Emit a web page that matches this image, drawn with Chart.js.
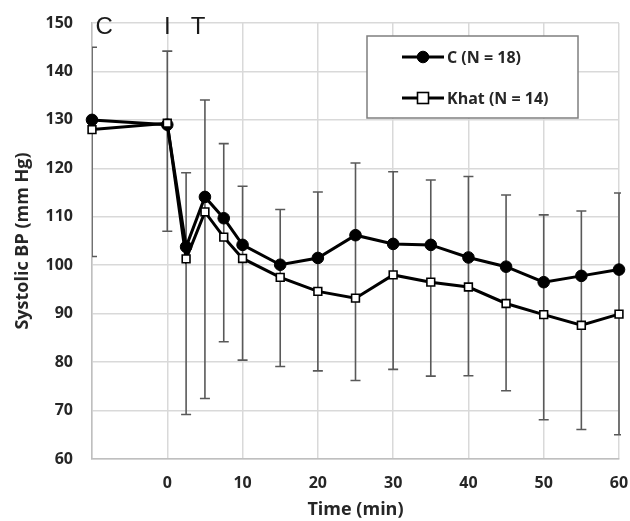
<!DOCTYPE html>
<html>
<head>
<meta charset="utf-8">
<script src="https://cdn.jsdelivr.net/npm/chart.js@4.4.1/dist/chart.umd.min.js"></script>
<style>
  html, body { margin: 0; padding: 0; background: #ffffff; }
  #wrap { width: 630px; height: 521px; position: relative; }
</style>
</head>
<body>
<div id="wrap"><canvas id="chart" width="630" height="521"></canvas></div>
<script>
// ---- Data ----
const times = [-10, 0, 2.5, 5, 7.5, 10, 15, 20, 25, 30, 35, 40, 45, 50, 55, 60];
const cValues = [130, 129, 103.8, 114.1, 109.7, 104.2, 100.1, 101.5, 106.2, 104.4, 104.2, 101.6, 99.7, 96.5, 97.8, 99.1];
const khatValues = [128, 129.3, 101.3, 111, 105.8, 101.4, 97.5, 94.6, 93.2, 98.0, 96.5, 95.5, 92.1, 89.8, 87.6, 89.9];
const errUpper = [145, 144.2, 119.1, 134.1, 125.1, 116.3, 111.5, 115.1, 121.1, 119.3, 117.6, 118.3, 114.5, 110.4, 111.2, 114.9];
const errLower = [101.8, 107, 69.2, 72.5, 84.2, 80.4, 79.1, 78.2, 76.2, 78.5, 77.1, 77.2, 74.1, 68.1, 66.1, 65.0];
const seriesNames = ['C (N = 18)', 'Khat (N = 14)'];
const phaseLabels = ['C', 'I', 'T'];
const phaseTimes = [-8.4, 0, 4.1];
const yTicks = { min: 60, max: 150, step: 10 };
const xTicks = { min: -10, max: 60, step: 10 };

const TEXT = '#262626';
const GRID = '#d9d9d9';

const errorBarPlugin = {
  id: 'errorBars',
  beforeDatasetsDraw(chart) {
    const { ctx, chartArea, scales } = chart;
    const xs = scales.x, ys = scales.y;
    ctx.save();
    ctx.beginPath();
    ctx.rect(chartArea.left, chartArea.top, chartArea.right - chartArea.left + 2, chartArea.bottom - chartArea.top);
    ctx.clip();
    ctx.strokeStyle = '#595959';
    ctx.lineWidth = 1.6;
    const cap = 5;
    for (let i = 0; i < times.length; i++) {
      const px = xs.getPixelForValue(times[i]);
      const pt = ys.getPixelForValue(errUpper[i]);
      const pb = ys.getPixelForValue(errLower[i]);
      ctx.beginPath();
      ctx.moveTo(px, pt); ctx.lineTo(px, pb);
      ctx.moveTo(px - cap, pt); ctx.lineTo(px + cap, pt);
      ctx.moveTo(px - cap, pb); ctx.lineTo(px + cap, pb);
      ctx.stroke();
    }
    ctx.restore();
  }
};

const annotPlugin = {
  id: 'annotAndLegend',
  afterDraw(chart) {
    const { ctx, chartArea, scales } = chart;
    ctx.save();
    // phase labels C / I / T
    ctx.fillStyle = '#1a1a1a';
    ctx.font = '24px "Liberation Sans", Arial, sans-serif';
    ctx.textAlign = 'center';
    ctx.textBaseline = 'alphabetic';
    for (let i = 0; i < phaseLabels.length; i++) {
      ctx.fillText(phaseLabels[i], scales.x.getPixelForValue(phaseTimes[i]), chartArea.top + 10.5);
    }
    // legend box
    const bx = 367, by = 36, bw = 211, bh = 82;
    ctx.fillStyle = '#ffffff';
    ctx.fillRect(bx, by, bw, bh);
    ctx.strokeStyle = '#7f7f7f';
    ctx.lineWidth = 1.5;
    ctx.strokeRect(bx, by, bw, bh);
    const rows = [57, 98];
    chart.data.datasets.forEach((ds) => {
      const li = seriesNames.indexOf(ds.label);
      const y = rows[li];
      ctx.strokeStyle = ds.borderColor;
      ctx.lineWidth = ds.borderWidth;
      ctx.beginPath(); ctx.moveTo(402, y); ctx.lineTo(444, y); ctx.stroke();
      ctx.lineWidth = ds.pointBorderWidth;
      ctx.fillStyle = ds.pointBackgroundColor;
      if (ds.pointStyle === 'circle') {
        ctx.beginPath(); ctx.arc(423, y, ds.pointRadius, 0, Math.PI * 2); ctx.fill(); ctx.stroke();
      } else {
        const r = ds.pointRadius;
        ctx.fillRect(423 - r, y - r, 2 * r, 2 * r);
        ctx.strokeRect(423 - r, y - r, 2 * r, 2 * r);
      }
      ctx.fillStyle = TEXT;
      ctx.font = 'bold 16px "Open Sans", sans-serif';
      ctx.textAlign = 'left';
      ctx.textBaseline = 'middle';
      ctx.fillText(ds.label, 447, y + 1);
    });
    ctx.restore();
  }
};

new Chart(document.getElementById('chart'), {
  type: 'line',
  data: {
    datasets: [
      {
        label: seriesNames[1],
        data: times.map((t, i) => ({ x: t, y: khatValues[i] })),
        borderColor: '#000000', borderWidth: 3,
        pointStyle: 'rect', pointRadius: 5.5, pointBorderWidth: 1.6,
        pointBackgroundColor: '#ffffff', pointBorderColor: '#000000',
        clip: false, tension: 0
      },
      {
        label: seriesNames[0],
        data: times.map((t, i) => ({ x: t, y: cValues[i] })),
        borderColor: '#000000', borderWidth: 3,
        pointStyle: 'circle', pointRadius: 5.8, pointBorderWidth: 1,
        pointBackgroundColor: '#000000', pointBorderColor: '#000000',
        clip: false, tension: 0
      }
    ]
  },
  options: {
    responsive: false,
    animation: false,
    events: [],
    layout: { padding: { left: 0, right: 11, top: 23, bottom: 0 } },
    plugins: { legend: { display: false }, tooltip: { enabled: false } },
    scales: {
      x: {
        type: 'linear',
        min: xTicks.min, max: xTicks.max,
        afterFit(s) { s.height = 62; },
        ticks: {
          stepSize: xTicks.step, color: TEXT, padding: 0,
          font: { family: '"Open Sans", sans-serif', size: 16, weight: 'bold' },
          callback: (v) => (v < 0 ? '' : v)
        },
        grid: { color: GRID, lineWidth: 1.5, drawTicks: true, tickLength: 15, tickColor: 'rgba(0,0,0,0)' },
        border: { color: '#bfbfbf', width: 1.5 },
        title: {
          display: true, text: 'Time (min)', color: TEXT,
          font: { family: '"Open Sans", sans-serif', size: 18, weight: 'bold' },
          padding: { top: 0, bottom: 0 }
        }
      },
      y: {
        min: yTicks.min, max: yTicks.max,
        afterFit(s) { s.width = 92; },
        ticks: {
          stepSize: yTicks.step, color: TEXT, padding: 0,
          font: { family: '"Open Sans", sans-serif', size: 16, weight: 'bold' }
        },
        grid: { color: GRID, lineWidth: 1.5, drawTicks: true, tickLength: 19, tickColor: 'rgba(0,0,0,0)' },
        border: { color: '#bfbfbf', width: 1.5 },
        title: {
          display: true, text: 'Systolic BP (mm Hg)', color: TEXT,
          font: { family: '"Open Sans", sans-serif', size: 18, weight: 'bold' },
          padding: { top: 12, bottom: 0 }
        }
      }
    }
  },
  plugins: [errorBarPlugin, annotPlugin]
});
</script>
</body>
</html>
